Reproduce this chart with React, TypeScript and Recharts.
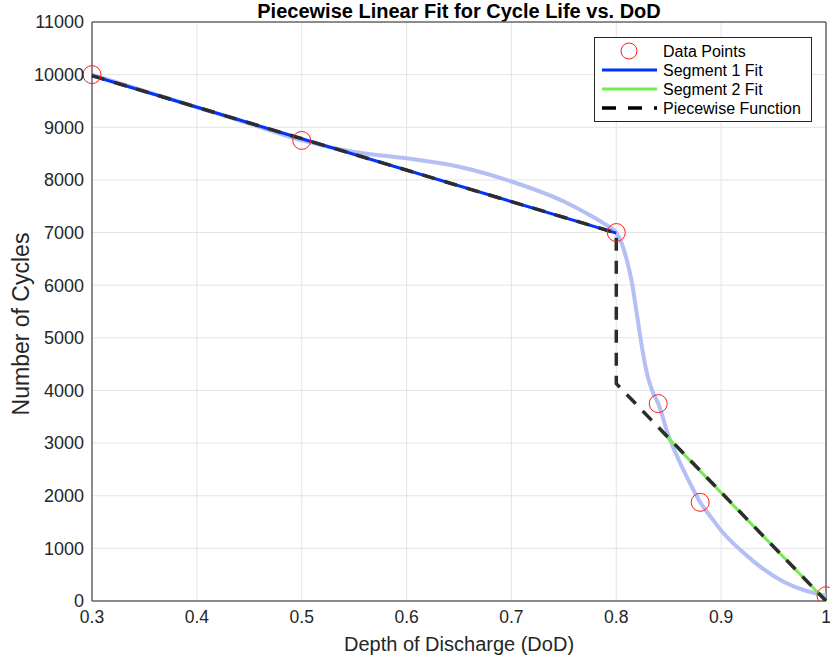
import React from "react";
import {
  ComposedChart,
  Line,
  Scatter,
  XAxis,
  YAxis,
  CartesianGrid,
  ReferenceLine,
  Legend,
} from "recharts";

// measured data points
const pointDoD = [0.3, 0.5, 0.8, 0.84, 0.88, 1.0];
const pointCycles = [10000, 8750, 7000, 3750, 1875, 100];

// linear fits
const seg1DoD = [0.3, 0.8];
const seg1Cycles = [9980, 6990];
const seg2DoD = [0.84, 1.0];
const seg2Cycles = [3290, 0];

// piecewise function (with the jump at 0.8)
const pieceDoD = [0.3, 0.8, 0.8, 1.0];
const pieceCycles = [9980, 6990, 4130, 0];

// smooth curve through the points
const curveDoD = [
  0.3, 0.35, 0.4, 0.45, 0.5, 0.55, 0.6, 0.65, 0.7, 0.75, 0.775, 0.79, 0.8,
  0.805, 0.81, 0.815, 0.82, 0.825, 0.83, 0.835, 0.84, 0.85, 0.86, 0.87, 0.88,
  0.89, 0.9, 0.92, 0.94, 0.96, 0.98, 0.99, 1.0,
];
const curveCycles = [
  10000, 9690, 9380, 9070, 8750, 8530, 8410, 8250, 7970, 7590, 7330, 7150, 7000,
  6800, 6480, 6040, 5400, 4760, 4260, 3960, 3750, 3130, 2660, 2250, 1875,
  1600, 1340, 940, 610, 360, 200, 145, 100,
];

const xTicks = [0.3, 0.4, 0.5, 0.6, 0.7, 0.8, 0.9, 1];
const yTicks = [0, 1000, 2000, 3000, 4000, 5000, 6000, 7000, 8000, 9000, 10000, 11000];

const zip = (xs: number[], ys: number[]) => xs.map((x, i) => ({ x, y: ys[i] }));

const points = zip(pointDoD, pointCycles);
const seg1 = zip(seg1DoD, seg1Cycles);
const seg2 = zip(seg2DoD, seg2Cycles);
const piece = zip(pieceDoD, pieceCycles);
const curve = zip(curveDoD, curveCycles);

const FONT = "'Liberation Sans', Arial, Helvetica, sans-serif";
const INK = "#262626";
const BLUE = "#0033ff";
const GREEN = "#74ec4f";
const DARK = "#2d2d2d";

const Circle = (props: any) => (
  <circle cx={props.cx} cy={props.cy} r={9} fill="none" stroke="#ff1a1a" strokeWidth={1} />
);

const LegendBox = () => (
  <svg width={218} height={85} style={{ display: "block" }}>
    <rect x={0.5} y={0.5} width={217} height={84} fill="#fff" stroke={INK} strokeWidth={1} />
    <circle cx={35} cy={14} r={8} fill="none" stroke="#ff1a1a" strokeWidth={1} />
    <line x1={8} x2={63} y1={33} y2={33} stroke={BLUE} strokeWidth={3} />
    <line x1={8} x2={63} y1={52} y2={52} stroke={GREEN} strokeWidth={3} />
    <line x1={8} x2={63} y1={71} y2={71} stroke="#000" strokeWidth={3.5} strokeDasharray="14 12" />
    {["Data Points", "Segment 1 Fit", "Segment 2 Fit", "Piecewise Function"].map((t, i) => (
      <text key={t} x={69} y={19.5 + i * 19} fontSize={16} fontFamily={FONT} fill="#000">
        {t}
      </text>
    ))}
  </svg>
);

export default function App() {
  return (
    <div style={{ position: "absolute", left: 0, top: 0, width: 830, height: 664, background: "#fff" }}>
      <div
        style={{
          position: "absolute",
          left: 92,
          width: 734,
          top: 0,
          textAlign: "center",
          fontFamily: FONT,
          fontWeight: "bold",
          fontSize: 20,
          lineHeight: "22px",
          color: "#000",
        }}
      >
        Piecewise Linear Fit for Cycle Life vs. DoD
      </div>
      <ComposedChart width={830} height={664} margin={{ top: 22, right: 4, bottom: 0, left: 0 }}>
        <CartesianGrid stroke="#e4e4e4" />
        <XAxis
          dataKey="x"
          type="number"
          domain={[0.3, 1]}
          ticks={xTicks}
          interval={0}
          height={63}
          tickLine={false}
          tickMargin={4}
          tickFormatter={(v: number) => String(v)}
          tick={{ fontSize: 17.5, fontFamily: FONT, fill: INK }}
          axisLine={{ stroke: INK }}
          label={() => (
            <text x={459} y={651} textAnchor="middle" fontSize={20} fontFamily={FONT} fill={INK}>
              Depth of Discharge (DoD)
            </text>
          )}
        />
        <YAxis
          type="number"
          domain={[0, 11000]}
          ticks={yTicks}
          interval={0}
          width={92}
          tickLine={false}
          tick={{ fontSize: 18, fontFamily: FONT, fill: INK }}
          axisLine={{ stroke: INK }}
          allowDataOverflow
          label={() => (
            <text
              x={29}
              y={324}
              textAnchor="middle"
              transform="rotate(-90, 29, 324)"
              fontSize={23}
              fontFamily={FONT}
              fill={INK}
            >
              Number of Cycles
            </text>
          )}
        />
        <ReferenceLine y={11000} stroke={INK} strokeWidth={1} />
        <ReferenceLine x={1} stroke={INK} strokeWidth={1} />
        <Line
          data={curve}
          dataKey="y"
          type="monotone"
          stroke="#b3bff5"
          strokeWidth={4}
          dot={false}
          activeDot={false}
          isAnimationActive={false}
        />
        <Line
          data={seg1}
          dataKey="y"
          type="linear"
          stroke={BLUE}
          strokeWidth={3}
          dot={false}
          activeDot={false}
          isAnimationActive={false}
        />
        <Line
          data={seg2}
          dataKey="y"
          type="linear"
          stroke={GREEN}
          strokeWidth={3}
          dot={false}
          activeDot={false}
          isAnimationActive={false}
        />
        <Line
          data={piece}
          dataKey="y"
          type="linear"
          stroke={DARK}
          strokeWidth={3.5}
          strokeDasharray="13 10"
          dot={false}
          activeDot={false}
          isAnimationActive={false}
        />
        <Scatter data={points} dataKey="y" shape={Circle} isAnimationActive={false} />
        <Legend
          layout="vertical"
          align="center"
          verticalAlign="middle"
          content={() => <LegendBox />}
          wrapperStyle={{ left: 594, top: 37, width: 218, height: 85 }}
        />
      </ComposedChart>
    </div>
  );
}
